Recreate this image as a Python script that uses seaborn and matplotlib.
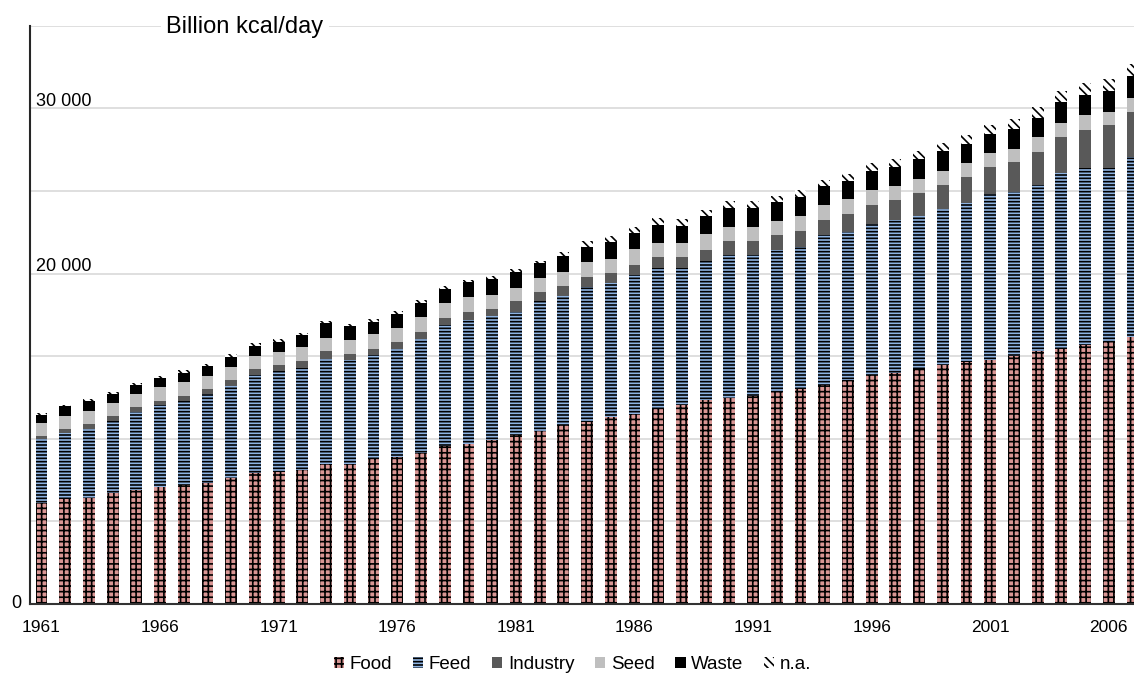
import matplotlib
matplotlib.use('Agg')
import matplotlib.pyplot as plt
import matplotlib.patches as mpatches
import matplotlib.transforms as mtransforms
import pandas as pd
import seaborn as sns

# data (billion kcal/day)
years = list(range(1961, 2008))
food = [6100, 6360, 6440, 6710, 6910, 7110, 7210, 7320, 7640, 7940,
        8000, 8120, 8490, 8490, 8790, 8910, 9150, 9580, 9700, 9940,
        10240, 10490, 10850, 11030, 11330, 11520, 11820, 12060, 12360, 12490,
        12610, 12850, 13030, 13270, 13580, 13880, 14000, 14240, 14490, 14620,
        14790, 14990, 15290, 15440, 15660, 15920, 16160]
feed = [3880, 4020, 4180, 4340, 4710, 4910, 5050, 5390, 5580, 5940,
        6120, 6180, 6350, 6300, 6300, 6530, 6910, 7290, 7520, 7470,
        7440, 7840, 7820, 8160, 8100, 8420, 8490, 8290, 8380, 8620,
        8500, 8550, 8560, 9050, 8950, 9150, 9270, 9270, 9440, 9680,
        10000, 9940, 10100, 10620, 10710, 10500, 10910]
industry = [160, 210, 280, 300, 280, 290, 360, 300, 360, 360,
            360, 420, 460, 360, 360, 400, 410, 450, 470, 470,
            640, 530, 550, 580, 610, 610, 690, 640, 710, 850,
            850, 910, 970, 950, 1050, 1110, 1170, 1380, 1430, 1550,
            1650, 1820, 1980, 2200, 2320, 2550, 2700]
seed = [810, 810, 790, 810, 810, 810, 810, 810, 790, 790,
        790, 810, 810, 850, 890, 870, 910, 910, 870, 850,
        830, 850, 880, 910, 870, 910, 870, 870, 950, 870,
        870, 880, 950, 910, 910, 910, 890, 850, 850, 860,
        830, 820, 870, 870, 890, 830, 870]
waste = [500, 560, 620, 560, 520, 570, 580, 610, 610, 610,
         610, 730, 870, 810, 760, 870, 850, 840, 910, 970,
         970, 910, 970, 930, 990, 1010, 1050, 1010, 1070, 1150,
         1150, 1120, 1150, 1150, 1110, 1150, 1130, 1170, 1210, 1140,
         1180, 1180, 1190, 1250, 1210, 1250, 1310]
na = [120, 100, 100, 120, 150, 140, 160, 120, 150, 150,
      150, 150, 140, 160, 160, 180, 170, 150, 150, 180,
      150, 150, 210, 340, 360, 340, 470, 410, 410, 400,
      400, 390, 420, 360, 410, 470, 490, 500, 470, 520,
      550, 610, 670, 670, 770, 750, 710]

tick_years = [1961, 1966, 1971, 1976, 1981, 1986, 1991, 1996, 2001, 2006]
y_label_values = [0, 20000, 30000]
y_label_texts = ['0', '20 000', '30 000']

parts = ['Food', 'Feed', 'Industry', 'Seed', 'Waste', 'n.a.']
colors = {'Food': '#D99694', 'Feed': '#8EB4E3', 'Industry': '#595959',
          'Seed': '#BFBFBF', 'Waste': '#000000', 'n.a.': '#FFFFFF'}
hatches = {'Food': '+++', 'Feed': '-----', 'Industry': None,
           'Seed': None, 'Waste': None, 'n.a.': '\\\\\\\\'}

sns.set_style('white')
plt.rcParams['font.family'] = ['Liberation Sans', 'DejaVu Sans']
plt.rcParams['hatch.linewidth'] = 1.2
plt.rcParams['text.color'] = 'black'
plt.rcParams['xtick.color'] = 'black'
plt.rcParams['ytick.color'] = 'black'

df = pd.DataFrame({'year': [str(y) for y in years], 'Food': food, 'Feed': feed,
                   'Industry': industry, 'Seed': seed, 'Waste': waste, 'n.a.': na})
cum = df[parts].cumsum(axis=1)

fig = plt.figure(figsize=(11.34, 6.73), dpi=100)
ax = fig.add_axes([30 / 1134, 69 / 673, 1104 / 1134, 578.2 / 673])

# stacked bars: draw the running totals from the top layer down
for part in reversed(parts):
    sns.barplot(x=df['year'], y=cum[part], color=colors[part], saturation=1,
                width=0.5, hatch=hatches[part], edgecolor='black', linewidth=0,
                errorbar=None, ax=ax)

ax.set_xlim(-0.485, 46.06)
ax.set_ylim(0, 35000)
ax.set_xlabel('')
ax.set_ylabel('')

ax.set_yticks(range(0, 35001, 5000))
ax.set_yticklabels([])
ax.tick_params(axis='y', direction='inout', length=8, width=1.5, color='#262626')
ax.yaxis.grid(True, color='#D9D9D9', linewidth=1.2)
ax.xaxis.grid(False)
ax.set_axisbelow(True)

ax.set_xticks([years.index(y) for y in tick_years])
ax.set_xticklabels([str(y) for y in tick_years])
ax.tick_params(axis='x', length=0, pad=11.5, labelsize=12.5, labelcolor='black')

for s in ['top', 'right']:
    ax.spines[s].set_visible(False)
ax.spines['left'].set_linewidth(1.5)
ax.spines['left'].set_color('#262626')
ax.spines['bottom'].set_linewidth(1.5)
ax.spines['bottom'].set_color('#333333')

trans = mtransforms.blended_transform_factory(ax.transAxes, ax.transData)
for v, t in zip(y_label_values, y_label_texts):
    if v == 0:
        ax.text(-0.008, v, t, transform=trans, ha='right', va='center', fontsize=13)
    else:
        ax.text(0.005, v + 150, t, transform=trans, ha='left', va='baseline', fontsize=13)

fig.text(245 / 1134, 1 - 33 / 673, 'Billion kcal/day', ha='center', va='baseline',
         fontsize=17, bbox=dict(facecolor='white', edgecolor='none', pad=4))

handles = [mpatches.Patch(facecolor=colors[p], edgecolor='black', linewidth=0,
                          hatch=hatches[p]) for p in parts]
fig.legend(handles, parts, loc='center', bbox_to_anchor=(0.505, 0.0125), ncol=6,
           frameon=False, fontsize=13.5, handlelength=0.55, handleheight=0.55,
           handletextpad=0.3, columnspacing=1.1, borderaxespad=0, borderpad=0)

fig.savefig('out.png', dpi=100)
